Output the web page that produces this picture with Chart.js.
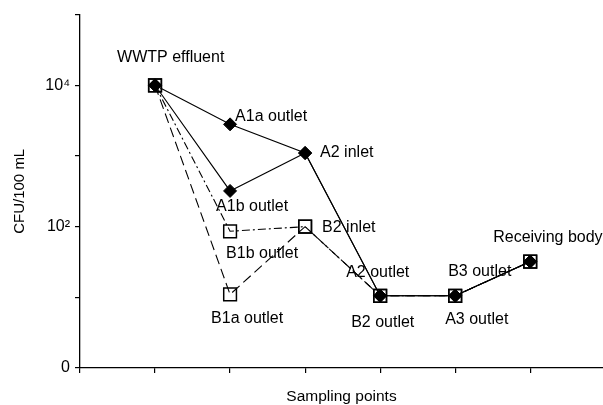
<!DOCTYPE html>
<html>
<head>
<meta charset="utf-8">
<script src="https://cdn.jsdelivr.net/npm/chart.js@4/dist/chart.umd.min.js"></script>
<style>
  html, body { margin: 0; padding: 0; background: #fff; }
  canvas { display: block; }
</style>
</head>
<body>
<canvas id="chart" width="603" height="405"></canvas>
<script>
// sampling point positions along the x axis (1 = WWTP effluent ... 6 = receiving body)
const samplingPositions = [1, 2, 3, 4, 5, 6];

// CFU/100 mL along each treatment route
const routeA1a = [10000, 2800, 1100, 10.5, 10.5, 32];
const routeA1b = [10000, 320, 1100, 10.5, 10.5, 32];
const routeB1b = [10000, 86, 100, 10.5, 10.5, 32];
const routeB1a = [10000, 11, 100, 10.5, 10.5, 32];

// y axis ticks (log scale), only some carry a label
const yTickValues = [1, 10, 100, 1000, 10000, 100000];
const yTickLabels = ['0', '', '10²', '', '10⁴', ''];
const xTickValues = [0, 1, 2, 3, 4, 5, 6];

const FONT = "'Liberation Sans', Arial, Helvetica, sans-serif";

// text next to the sampling points: [text, dataset, point index]
const pointNames = [
  ['WWTP effluent', 0, 0],
  ['A1a outlet', 0, 1],
  ['A2 inlet', 0, 2],
  ['A1b outlet', 1, 1],
  ['B1b outlet', 2, 1],
  ['B1a outlet', 3, 1],
  ['B2 inlet', 2, 2],
  ['A2 outlet', 0, 3],
  ['B2 outlet', 2, 3],
  ['B3 outlet', 2, 4],
  ['A3 outlet', 0, 4],
  ['Receiving body', 0, 5],
];
// offsets of the label's left edge / middle from the point, in px
const nameOffsets = [
  [-38, -28], [5, -8], [15, 0], [-14, 16], [-4, 22], [-19, 24],
  [17, 1], [-34, -23], [-29, 27], [-7, -24], [-10, 24], [-37, -24],
];

function toPoints(values) {
  return values.map((v, i) => ({ x: samplingPositions[i], y: v }));
}

const diamondStyle = {
  borderColor: '#000',
  backgroundColor: '#000',
  borderWidth: 1.1,
  pointStyle: 'rectRot',
  pointRadius: 6.5,
  pointBackgroundColor: '#000',
  pointBorderColor: '#000',
  pointBorderWidth: 1,
  tension: 0,
  fill: false,
};

const squareStyle = {
  borderColor: '#000',
  backgroundColor: 'transparent',
  borderWidth: 1.1,
  pointStyle: 'rect',
  pointRadius: 9,
  pointBackgroundColor: 'transparent',
  pointBorderColor: '#000',
  pointBorderWidth: 1.5,
  tension: 0,
  fill: false,
};

const pointNamesPlugin = {
  id: 'pointNames',
  afterDatasetsDraw(chart) {
    const ctx = chart.ctx;
    ctx.save();
    ctx.font = '16px ' + FONT;
    ctx.fillStyle = '#000';
    ctx.textAlign = 'left';
    ctx.textBaseline = 'middle';
    pointNames.forEach(([text, ds, idx], k) => {
      const el = chart.getDatasetMeta(ds).data[idx];
      const [dx, dy] = nameOffsets[k];
      ctx.fillText(text, el.x + dx, el.y + dy);
    });
    ctx.restore();
  }
};

new Chart(document.getElementById('chart'), {
  type: 'line',
  data: {
    datasets: [
      { label: 'A1a', data: toPoints(routeA1a), ...diamondStyle },
      { label: 'A1b', data: toPoints(routeA1b), ...diamondStyle },
      { label: 'B1b', data: toPoints(routeB1b), ...squareStyle, borderDash: [8, 3, 2, 3] },
      { label: 'B1a', data: toPoints(routeB1a), ...squareStyle, borderDash: [10, 5] },
    ]
  },
  options: {
    responsive: false,
    animation: false,
    devicePixelRatio: 1,
    layout: { autoPadding: false, padding: { top: 14, right: 0, bottom: 0, left: 0 } },
    plugins: {
      legend: { display: false },
      tooltip: { enabled: false },
    },
    events: [],
    scales: {
      x: {
        type: 'linear',
        min: 0,
        max: 6.97,
        afterBuildTicks: (scale) => { scale.ticks = xTickValues.map(v => ({ value: v })); },
        afterFit: (scale) => { scale.height = 37; scale.paddingLeft = 0; scale.paddingRight = 0; },
        ticks: { display: false },
        grid: { drawOnChartArea: false, drawTicks: true, tickLength: 5, color: '#000', lineWidth: 1.2 },
        border: { display: true, color: '#000', width: 1.3 },
        title: {
          display: true,
          text: 'Sampling points',
          color: '#000',
          font: { family: FONT, size: 15.5, lineHeight: 1.07 },
          padding: { top: 0, bottom: 0 },
        },
      },
      y: {
        type: 'logarithmic',
        min: 1,
        max: 100000,
        afterBuildTicks: (scale) => { scale.ticks = yTickValues.map(v => ({ value: v })); },
        afterFit: (scale) => { scale.width = 80; },
        ticks: {
          color: '#000',
          font: { family: FONT, size: 16 },
          padding: 5,
          autoSkip: false,
          callback: (v) => yTickLabels[yTickValues.indexOf(v)] ?? '',
        },
        grid: { drawOnChartArea: false, drawTicks: true, tickLength: 5, color: '#000', lineWidth: 1.2 },
        border: { display: true, color: '#000', width: 1.3 },
        title: {
          display: true,
          text: 'CFU/100 mL',
          color: '#000',
          font: { family: FONT, size: 15 },
          padding: { top: 11, bottom: 0 },
        },
      },
    },
  },
  plugins: [pointNamesPlugin],
});
</script>
</body>
</html>
